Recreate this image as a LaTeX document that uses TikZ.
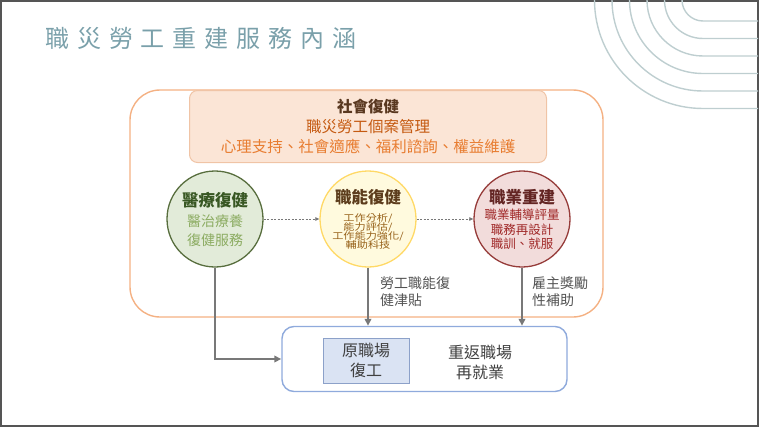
\documentclass[tikz,border=0pt]{standalone}
\usepackage{fontspec}
\setmainfont{Noto Sans CJK TC}
\newfontfamily\titlefont[LetterSpace=33]{Noto Sans CJK TC}
\newfontfamily\widefont[FakeStretch=1.2]{Noto Sans CJK TC}
\usepackage{tikz}
\usetikzlibrary{arrows.meta}
\usepackage{xcolor}
\definecolor{frameg}{RGB}{85,85,85}
\definecolor{arcg}{RGB}{190,206,208}
\definecolor{titleg}{RGB}{122,160,170}
\definecolor{orangel}{RGB}{244,177,131}
\definecolor{peachf}{RGB}{251,229,214}
\definecolor{peachb}{RGB}{240,196,166}
\definecolor{brownt}{RGB}{89,56,32}
\definecolor{caset}{RGB}{197,90,17}
\definecolor{supt}{RGB}{232,125,49}
\definecolor{greenf}{RGB}{226,235,217}
\definecolor{greenb}{RGB}{88,110,62}
\definecolor{greent}{RGB}{56,87,35}
\definecolor{greens}{RGB}{140,172,98}
\definecolor{yellowf}{RGB}{255,250,222}
\definecolor{yellowb}{RGB}{255,217,102}
\definecolor{yellowt}{RGB}{92,60,28}
\definecolor{yellows}{RGB}{150,96,24}
\definecolor{redf}{RGB}{242,220,219}
\definecolor{redb}{RGB}{150,60,58}
\definecolor{redt}{RGB}{99,37,35}
\definecolor{reds}{RGB}{160,40,40}
\definecolor{blueb}{RGB}{143,170,220}
\definecolor{bluef}{RGB}{218,227,243}
\definecolor{arrg}{RGB}{120,120,120}
\definecolor{textg}{RGB}{64,64,64}
\newcommand\tightlines{\lineskiplimit=-10pt\relax}

\begin{document}
\begin{tikzpicture}[x=1pt,y=-1pt,>={Triangle[length=7pt,width=6.5pt]},
  rehab/.style={circle,line width=1.3pt,minimum size=96pt,inner sep=0pt},
  head/.style={font=\fontsize{16.5}{16.5}\selectfont\bfseries,inner sep=0pt},
  arr/.style={draw=arrg,line width=1.8pt,->},
  dasharr/.style={draw=arrg,line width=0.7pt,dash pattern=on 2pt off 1.5pt,
    -{Triangle[length=4pt,width=3.5pt]}},
  note/.style={font=\fontsize{14}{17}\selectfont,align=left,anchor=west,text=textg!90,inner sep=0pt}]
\useasboundingbox (0,0) rectangle (760,428);
\draw [frameg, line width=2pt] (1,1) rectangle (758.3,426.2);
\foreach \r in {21,38.5,56,73.5,91,108.5}
  \draw [arcg, line width=1.4pt] (703-\r,0) arc (180:90:\r) -- (758,\r);
\node [titleg, anchor=west, inner sep=0pt, font=\titlefont\fontsize{24}{24}\selectfont] (title) at (45,38.5) {職災勞工重建服務內涵};

\draw [orangel, line width=1.4pt, rounded corners=30pt] (130,90) rectangle (603,317);
\node [draw=peachb, fill=peachf, line width=1pt, rounded corners=8pt, minimum width=357pt, minimum height=72pt,
  align=center, font=\fontsize{15.5}{20}\selectfont] (social) at (368,126.5)
  {\textcolor{brownt}{\bfseries 社會復健}\\ \textcolor{caset}{職災勞工個案管理}\\ \textcolor{supt}{心理支持、社會適應、福利諮詢、權益維護}};

\node [rehab, draw=greenb, fill=greenf] (med) at (215,219) {};
\node [head, greent] (medhead) at (215,200) {醫療復健};
\node [greens, align=center, inner sep=0pt, font=\fontsize{14}{19}\selectfont] (medtext) at (215,230.5) {醫治療養\\復健服務};

\node [rehab, draw=yellowb, fill=yellowf] (voc) at (368,219) {};
\node [head, yellowt] (vochead) at (368,197) {職能復健};
\node [yellows, align=center, inner sep=0pt, font=\widefont\fontsize{9.3}{9}\selectfont\tightlines] (voctext) at (368,231)
  {工作分析/\\能力評估/\\工作能力強化/\\輔助科技};

\node [rehab, draw=redb, fill=redf] (job) at (522,219) {};
\node [head, redt] (jobhead) at (522,197) {職業重建};
\node [reds, align=center, inner sep=0pt, font=\fontsize{12.5}{14.3}\selectfont\tightlines] (jobtext) at (522,229.5)
  {職業輔導評量\\職務再設計\\職訓、就服};

\draw [dasharr] (med) -- (voc);
\draw [dasharr] (voc) -- (job);

\node [draw=blueb, fill=white, line width=1.4pt, rounded corners=12pt, minimum width=285pt, minimum height=65pt] (back) at (424.5,359) {};
\node [draw=blueb!80!gray, fill=bluef, line width=0.8pt, minimum width=86pt, minimum height=45pt,
  align=center, text=textg, font=\fontsize{16}{20}\selectfont] (orig) at (366,360.5) {原職場\\復工};
\node [align=center, text=textg, font=\fontsize{16}{20}\selectfont] (newjob) at (480,362) {重返職場\\再就業};

\draw [arr] (med.south) |- (back.west);
\draw [arr] (voc.south) -- (voc.south |- back.north);
\draw [arr] (job.south) -- (job.south |- back.north);
\node [note] (vocnote) at (380,291.5) {勞工職能復\\健津貼};
\node [note] (jobnote) at (532,291.5) {雇主獎勵\\性補助};
\end{tikzpicture}
\end{document}
